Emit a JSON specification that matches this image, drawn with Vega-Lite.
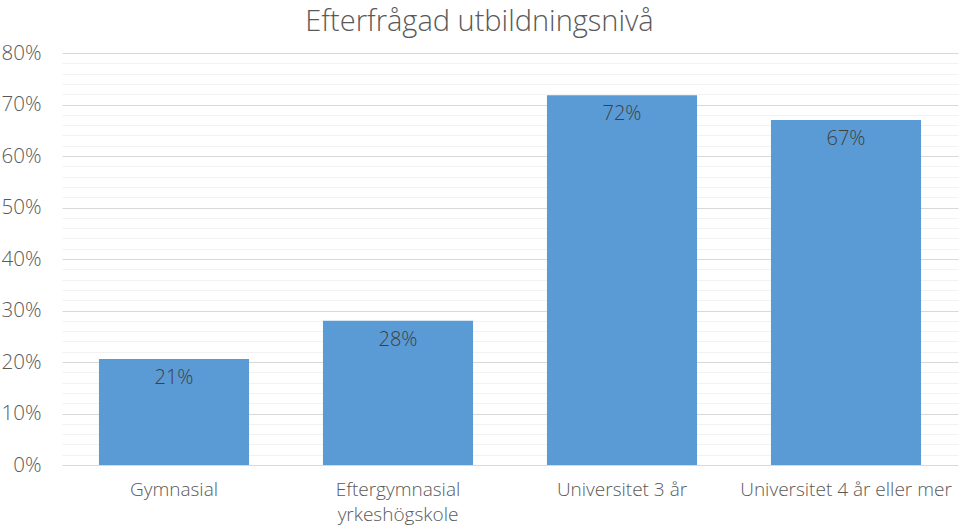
{
  "$schema": "https://vega.github.io/schema/vega-lite/v6.json",
  "width": 896,
  "height": 412,
  "autosize": {"type": "none"},
  "padding": {"left": 62, "top": 53, "right": 2, "bottom": 64},
  "background": "white",
  "title": {
    "text": "Efterfrågad utbildningsnivå",
    "font": "Open Sans",
    "fontSize": 29,
    "fontWeight": 300,
    "color": "#595959",
    "anchor": "middle",
    "frame": "bounds",
    "offset": 6
  },
  "config": {
    "view": {"stroke": null},
    "font": "Open Sans"
  },
  "data": {
    "values": [
      {"niva": "Gymnasial", "andel": 0.206, "etikett": "21%"},
      {"niva": "Eftergymnasial yrkeshögskole", "andel": 0.28, "etikett": "28%"},
      {"niva": "Universitet 3 år", "andel": 0.718, "etikett": "72%"},
      {"niva": "Universitet 4 år eller mer", "andel": 0.67, "etikett": "67%"}
    ]
  },
  "encoding": {
    "x": {
      "field": "niva",
      "type": "nominal",
      "sort": null,
      "scale": {"paddingInner": 0.33, "paddingOuter": 0.165},
      "axis": {
        "title": null,
        "labelAngle": 0,
        "labelFont": "Open Sans",
        "labelFontSize": 19,
        "labelFontWeight": 300,
        "labelColor": "#595959",
        "labelPadding": 15,
        "labelLineHeight": 25,
        "labelLimit": 0,
        "ticks": false,
        "domain": false,
        "labelExpr": "datum.label == 'Eftergymnasial yrkeshögskole' ? ['Eftergymnasial', 'yrkeshögskole'] : datum.label"
      }
    },
    "y": {
      "field": "andel",
      "type": "quantitative",
      "scale": {"domain": [0, 0.8], "nice": false},
      "axis": {
        "title": null,
        "values": [0, 0.02, 0.04, 0.06, 0.08, 0.1, 0.12, 0.14, 0.16, 0.18, 0.2, 0.22, 0.24, 0.26, 0.28, 0.3, 0.32, 0.34, 0.36, 0.38, 0.4, 0.42, 0.44, 0.46, 0.48, 0.5, 0.52, 0.54, 0.56, 0.58, 0.6, 0.62, 0.64, 0.66, 0.68, 0.7, 0.72, 0.74, 0.76, 0.78, 0.8],
        "labelExpr": "round(datum.value * 100) % 10 == 0 ? format(datum.value, '.0%') : ''",
        "labelFont": "Open Sans",
        "labelFontSize": 20.5,
        "labelFontWeight": 300,
        "labelColor": "#595959",
        "labelPadding": 21,
        "ticks": false,
        "domain": false,
        "grid": true,
        "gridWidth": 1,
        "gridColor": {
          "condition": {"test": "round(datum.value * 100) % 10 == 0", "value": "#d9d9d9"},
          "value": "#f2f2f2"
        }
      }
    }
  },
  "layer": [
    {"mark": {"type": "bar", "color": "#5b9bd5"}},
    {
      "mark": {
        "type": "text",
        "baseline": "top",
        "dy": 9,
        "font": "Open Sans",
        "fontSize": 20,
        "fontWeight": 300,
        "color": "#404040"
      },
      "encoding": {"text": {"field": "etikett"}}
    }
  ]
}
